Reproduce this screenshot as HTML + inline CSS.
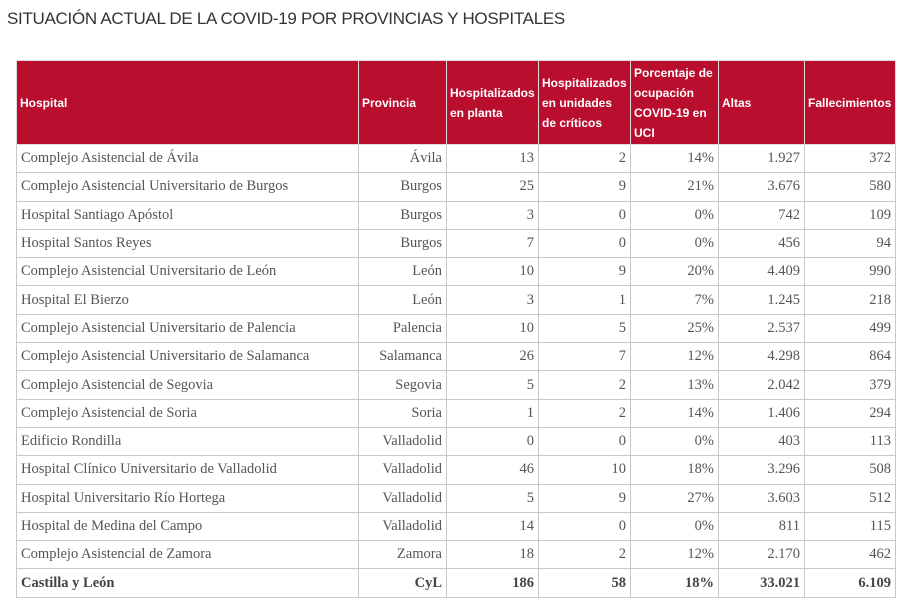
<!DOCTYPE html>
<html><head><meta charset="utf-8"><style>
body{margin:0;width:900px;height:603px;background:#fff;overflow:hidden;font-family:"Liberation Sans",sans-serif;}
h1{position:absolute;left:7px;top:9px;margin:0;font-size:17px;font-weight:normal;color:#333;letter-spacing:-0.3px;}
table{position:absolute;left:16px;top:60px;border-collapse:collapse;table-layout:fixed;width:879px;}
th{background:#b90e2e;color:#fff;font-size:12px;font-weight:bold;text-align:left;padding:0 3px;height:83px;border:1px solid #ddd;line-height:20px;}
td{font-family:"Liberation Serif",serif;font-size:14.5px;color:#555;height:27.3px;border:1px solid #c8c8c8;padding:0 4px;text-align:right;white-space:nowrap;overflow:hidden;}
td:first-child{text-align:left;}
tr.total td{font-weight:bold;color:#444;}
</style></head><body>
<h1>SITUACIÓN ACTUAL DE LA COVID-19 POR PROVINCIAS Y HOSPITALES</h1>
<table>
<colgroup><col style="width:342px"><col style="width:88px"><col style="width:92px"><col style="width:92px"><col style="width:88px"><col style="width:86px"><col style="width:91px"></colgroup>
<thead><tr>
<th>Hospital</th>
<th>Provincia</th>
<th>Hospitalizados en planta</th>
<th>Hospitalizados en unidades de críticos</th>
<th>Porcentaje de ocupación COVID-19 en UCI</th>
<th>Altas</th>
<th>Fallecimientos</th>
</tr></thead>
<tbody id="tb"></tbody>
</table>
<script>
const hospitals=["Complejo Asistencial de Ávila","Complejo Asistencial Universitario de Burgos","Hospital Santiago Apóstol","Hospital Santos Reyes","Complejo Asistencial Universitario de León","Hospital El Bierzo","Complejo Asistencial Universitario de Palencia","Complejo Asistencial Universitario de Salamanca","Complejo Asistencial de Segovia","Complejo Asistencial de Soria","Edificio Rondilla","Hospital Clínico Universitario de Valladolid","Hospital Universitario Río Hortega","Hospital de Medina del Campo","Complejo Asistencial de Zamora","Castilla y León"];
const provincias=["Ávila","Burgos","Burgos","Burgos","León","León","Palencia","Salamanca","Segovia","Soria","Valladolid","Valladolid","Valladolid","Valladolid","Zamora","CyL"];
const planta=[13,25,3,7,10,3,10,26,5,1,0,46,5,14,18,186];
const criticos=[2,9,0,0,9,1,5,7,2,2,0,10,9,0,2,58];
const ocupacion=["14%","21%","0%","0%","20%","7%","25%","12%","13%","14%","0%","18%","27%","0%","12%","18%"];
const altas=["1.927","3.676","742","456","4.409","1.245","2.537","4.298","2.042","1.406","403","3.296","3.603","811","2.170","33.021"];
const fallecimientos=[372,580,109,94,990,218,499,864,379,294,113,508,512,115,462,"6.109"];
const tb=document.getElementById('tb');
hospitals.forEach((h,i)=>{
 const tr=document.createElement('tr');
 
 
 if(i===hospitals.length-1)tr.className='total';
 [h,provincias[i],planta[i],criticos[i],ocupacion[i],altas[i],fallecimientos[i]].forEach((v,j)=>{
  const td=document.createElement('td');
  td.textContent=v;
  
  
  tr.appendChild(td);
 });
 tb.appendChild(tr);
});
</script>
</body></html>
